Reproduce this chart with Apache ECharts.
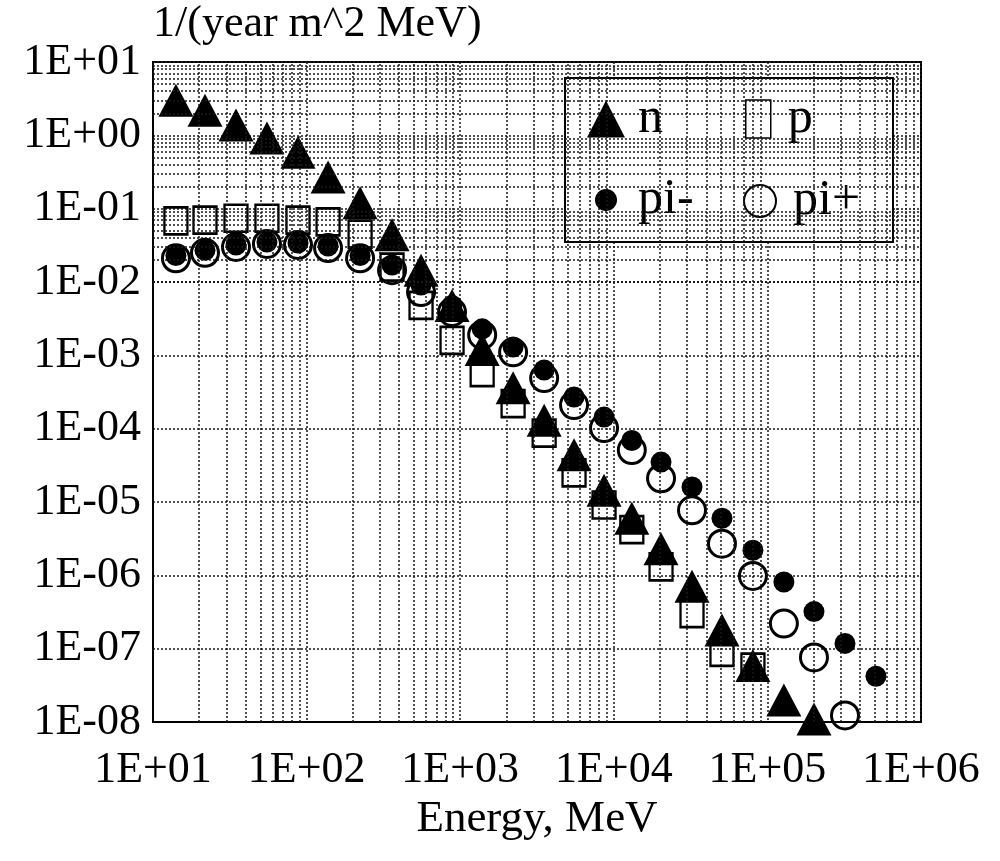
<!DOCTYPE html>
<html>
<head>
<meta charset="utf-8">
<script src="https://cdn.jsdelivr.net/npm/echarts@6/dist/echarts.min.js"></script>
<style>html,body{margin:0;padding:0;background:#fff;}#c{width:1000px;height:861px;}</style>
</head>
<body>
<div id="c"></div>
<script>
// Energy (MeV) of the data bins
const energy = [14.1, 21.8, 34.7, 55.2, 87.9, 138, 223, 360, 556, 885, 1390, 2210, 3520, 5510, 8640, 13100, 20300, 32300, 50600, 80500, 128000, 201000, 320000, 509000];
// Flux values, 1/(year m^2 MeV)
const nVals = [3.0, 2.2, 1.38, 0.92, 0.59, 0.27, 0.12, 0.044, 0.0145, 0.0048, 0.0012, 3.6e-4, 1.3e-4, 4.4e-5, 1.45e-5, 6.0e-6, 2.3e-6, 7.1e-7, 1.8e-7, 5.9e-8, 2.0e-8, 1.1e-8];
const pVals = [0.068, 0.070, 0.074, 0.074, 0.070, 0.066, 0.045, 0.016, 0.0048, 0.0016, 5.8e-4, 2.2e-4, 8.7e-5, 2.5e-5, 9.1e-6, 4.2e-6, 1.3e-6, 3.0e-7, 8.9e-8, 5.6e-8];
const piMinusVals = [0.023, 0.027, 0.032, 0.035, 0.034, 0.031, 0.023, 0.017, 0.0091, 0.0048, 0.0023, 0.0013, 6.3e-4, 2.7e-4, 1.44e-4, 6.9e-5, 3.5e-5, 1.6e-5, 6.0e-6, 2.2e-6, 8.1e-7, 3.2e-7, 1.18e-7, 4.2e-8];
const piPlusVals = [0.021, 0.025, 0.030, 0.033, 0.032, 0.029, 0.021, 0.0145, 0.0073, 0.0039, 0.0019, 0.0011, 4.9e-4, 2.1e-4, 1.02e-4, 5.1e-5, 2.1e-5, 7.7e-6, 2.7e-6, 9.8e-7, 2.2e-7, 7.6e-8, 1.23e-8];
// Axis ranges (decades)
const xDecades = [1, 6];
const yDecades = [-8, 1];
const minorMultipliers = [2, 3, 4, 5, 6, 7, 8, 9];

const FONT = 'Liberation Serif';
function expLabel(v) {
  const e = Math.round(Math.log10(v));
  return '1E' + (e >= 0 ? '+' : '-') + String(Math.abs(e)).padStart(2, '0');
}
function pairs(vals) { return vals.map((v, i) => [energy[i], v]); }

const minorLines = [];
for (let d = xDecades[0]; d < xDecades[1]; d++) {
  minorMultipliers.forEach(m => minorLines.push({ xAxis: m * Math.pow(10, d) }));
}
for (let d = yDecades[0]; d < yDecades[1]; d++) {
  minorMultipliers.forEach(m => minorLines.push({ yAxis: m * Math.pow(10, d) }));
}

const gridLine = { color: '#1a1a1a', type: [2, 2], width: 1.5 };

const chart = echarts.init(document.getElementById('c'), null, { renderer: 'canvas' });
chart.setOption({
  backgroundColor: '#fff',
  animation: false,
  textStyle: { fontFamily: FONT, color: '#000' },
  title: {
    text: '1/(year m^2 MeV)', left: 153, top: 2, padding: 0,
    textStyle: { fontFamily: FONT, fontSize: 44, fontWeight: 'normal', color: '#000' }
  },
  grid: { left: 153, right: 79, top: 62, bottom: 139, show: true, borderColor: '#000', borderWidth: 2, containLabel: false },
  xAxis: {
    type: 'log', logBase: 10, min: Math.pow(10, xDecades[0]), max: Math.pow(10, xDecades[1]), interval: 1, splitNumber: 5,
    name: 'Energy, MeV', nameLocation: 'middle', nameGap: 55,
    nameTextStyle: { fontFamily: FONT, fontSize: 45, color: '#000' },
    axisLine: { show: true, lineStyle: { color: '#000', width: 2 } },
    axisTick: { show: false },
    axisLabel: { formatter: expLabel, fontFamily: FONT, fontSize: 44, color: '#000', margin: 26 },
    splitLine: { show: true, lineStyle: gridLine }
  },
  yAxis: {
    type: 'log', logBase: 10, min: Math.pow(10, yDecades[0]), max: Math.pow(10, yDecades[1]), interval: 1, splitNumber: 9,
    axisLine: { show: true, lineStyle: { color: '#000', width: 2 } },
    axisTick: { show: false },
    axisLabel: { formatter: expLabel, fontFamily: FONT, fontSize: 44, color: '#000', margin: 12 },
    splitLine: { show: true, lineStyle: gridLine }
  },
  graphic: [{
    type: 'rect', z: 3, shape: { x: 565, y: 78, width: 328, height: 164 },
    style: { fill: '#fff', stroke: '#000', lineWidth: 2 }
  }],
  legend: [
    { data: [{ name: 'n', icon: 'triangle' }], left: 587, top: 94, padding: 0, itemWidth: 38, itemHeight: 37,
      itemStyle: { color: '#000', borderWidth: 0 },
      textStyle: { fontFamily: FONT, fontSize: 50, color: '#000', padding: [0, 0, 0, 8] }, selectedMode: false, z: 5 },
    { data: [{ name: 'p', icon: 'rect' }], left: 745, top: 94, padding: 0, itemWidth: 25, itemHeight: 38,
      itemStyle: { color: 'rgba(0,0,0,0)', borderColor: '#000', borderWidth: 1.5 },
      textStyle: { fontFamily: FONT, fontSize: 50, color: '#000', padding: [0, 0, 0, 12] }, selectedMode: false, z: 5 },
    { data: [{ name: 'pi-', icon: 'circle' }], left: 595, top: 175, padding: 0, itemWidth: 22, itemHeight: 22,
      itemStyle: { color: '#000', borderWidth: 0 },
      textStyle: { fontFamily: FONT, fontSize: 50, color: '#000', padding: [0, 0, 0, 16] }, selectedMode: false, z: 5 },
    { data: [{ name: 'pi+', icon: 'circle' }], left: 743, top: 176, padding: 0, itemWidth: 32, itemHeight: 32,
      itemStyle: { color: 'rgba(0,0,0,0)', borderColor: '#000', borderWidth: 2 },
      textStyle: { fontFamily: FONT, fontSize: 50, color: '#000', padding: [0, 0, 0, 12] }, selectedMode: false, z: 5 }
  ],
  series: [
    { name: 'minor grid', type: 'scatter', data: [], z: 1, silent: true,
      markLine: { silent: true, symbol: 'none', label: { show: false }, animation: false,
        lineStyle: gridLine, data: minorLines } },
    { name: 'n', type: 'scatter', data: pairs(nVals), symbol: 'triangle', symbolSize: [35, 33], z: 4,
      itemStyle: { color: '#000', opacity: 1 } },
    { name: 'p', type: 'scatter', data: pairs(pVals), symbol: 'rect', symbolSize: [23, 27], z: 3,
      itemStyle: { color: 'rgba(255,255,255,0)', borderColor: '#000', borderWidth: 2.5, opacity: 1 } },
    { name: 'pi-', type: 'scatter', data: pairs(piMinusVals), symbol: 'circle', symbolSize: 21, z: 3,
      itemStyle: { color: '#000', opacity: 1 } },
    { name: 'pi+', type: 'scatter', data: pairs(piPlusVals), symbol: 'circle', symbolSize: 27, z: 3,
      itemStyle: { color: 'rgba(255,255,255,0)', borderColor: '#000', borderWidth: 3, opacity: 1 } }
  ]
});
</script>
</body>
</html>
